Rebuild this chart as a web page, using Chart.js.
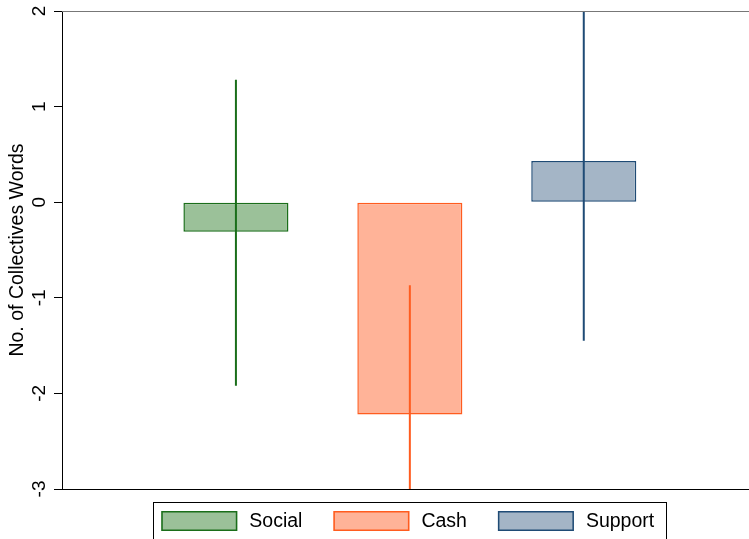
<!DOCTYPE html>
<html><head><meta charset="utf-8">
<script src="https://cdn.jsdelivr.net/npm/chart.js@4/dist/chart.umd.min.js"></script>
<style>html,body{margin:0;padding:0;background:#fff}canvas{display:block}</style>
</head><body>
<canvas id="c" width="749" height="539"></canvas>
<script>
const categories = ['Social', 'Cash', 'Support'];
const xPositions = [1, 2, 3];
const means = [-0.31, -2.22, 0.43];
const lowerCI = [-1.92, -3.57, -1.45];
const upperCI = [1.28, -0.87, 2.31];
const yTickValues = [-3, -2, -1, 0, 1, 2];
const yTickLabels = ['-3', '-2', '-1', '0', '1', '2'];
const yTitle = 'No. of Collectives Words';

const fills = ['#9bc199', '#ffb398', '#a4b5c6'];
const borders = ['#1a6e1a', '#ff5c1f', '#1f4b75'];
const FONT = '"Liberation Sans", Arial, Helvetica, sans-serif';

const decor = {
  id: 'decor',
  afterDatasetsDraw(chart) {
    const { ctx, chartArea: a, scales: { x, y } } = chart;
    ctx.save();
    ctx.beginPath();
    ctx.rect(a.left, a.top, a.right - a.left, a.bottom - a.top);
    ctx.clip();
    categories.forEach((c, i) => {
      const px = x.getPixelForValue(xPositions[i]);
      ctx.strokeStyle = borders[i];
      ctx.lineWidth = 2;
      ctx.beginPath();
      ctx.moveTo(px, y.getPixelForValue(lowerCI[i]));
      ctx.lineTo(px, y.getPixelForValue(upperCI[i]));
      ctx.stroke();
    });
    ctx.restore();
  },
  afterDraw(chart) {
    const { ctx, chartArea: a, scales: { y } } = chart;
    ctx.save();
    // top frame line
    ctx.strokeStyle = '#777';
    ctx.lineWidth = 1.2;
    ctx.beginPath();
    ctx.moveTo(a.left, a.top + 0.5);
    ctx.lineTo(a.right, a.top + 0.5);
    ctx.stroke();
    // rotated y tick labels
    ctx.fillStyle = '#000';
    ctx.font = '19px ' + FONT;
    ctx.textAlign = 'center';
    ctx.textBaseline = 'middle';
    yTickValues.forEach((v, i) => {
      const py = y.getPixelForValue(v);
      ctx.save();
      ctx.translate(40, py);
      ctx.rotate(-Math.PI / 2);
      ctx.fillText(yTickLabels[i], 0, 0);
      ctx.restore();
    });
    // legend
    ctx.font = '19.5px ' + FONT;
    const sw = 76, sh = 20, gapText = 12, gapItem = 31, padL = 8, padR = 12.5;
    const widths = categories.map(c => ctx.measureText(c).width);
    const inner = widths.reduce((s, w) => s + sw + gapText + w, 0) + gapItem * (categories.length - 1);
    const boxW = padL + inner + padR;
    const boxL = 410 - boxW / 2;
    ctx.strokeStyle = '#000';
    ctx.lineWidth = 1;
    ctx.strokeRect(Math.round(boxL) + 0.5, 502.5, Math.round(boxW), 60);
    let cx = boxL + padL;
    ctx.textAlign = 'left';
    ctx.textBaseline = 'middle';
    categories.forEach((c, i) => {
      ctx.fillStyle = fills[i];
      ctx.fillRect(cx, 511, sw, sh);
      ctx.strokeStyle = borders[i];
      ctx.lineWidth = 1.5;
      ctx.strokeRect(cx + 0.75, 511.75, sw - 1.5, sh - 1.5);
      ctx.fillStyle = '#000';
      ctx.fillText(c, cx + sw + gapText, 522);
      cx += sw + gapText + widths[i] + gapItem;
    });
    ctx.restore();
  }
};

new Chart(document.getElementById('c'), {
  type: 'bar',
  data: {
    datasets: categories.map((c, i) => ({
      label: c,
      data: [{ x: xPositions[i], y: means[i] }],
      backgroundColor: fills[i],
      borderColor: borders[i],
      borderWidth: 1.5,
      borderSkipped: false
    }))
  },
  options: {
    responsive: false,
    animation: false,
    grouped: false,
    categoryPercentage: 1,
    barPercentage: 0.604,
    layout: { padding: { left: 0, right: 0, top: 11, bottom: 50 } },
    plugins: { legend: { display: false }, tooltip: { enabled: false } },
    scales: {
      x: {
        type: 'linear',
        offset: false,
        min: 0,
        max: 3.95,
        afterBuildTicks: s => { s.ticks = xPositions.map(v => ({ value: v })); },
        afterFit: s => { s.height = 0; },
        ticks: { display: false },
        grid: { display: false, offset: false },
        border: { display: true, color: '#000', width: 1 }
      },
      y: {
        min: -3,
        max: 2,
        afterBuildTicks: s => { s.ticks = yTickValues.map(v => ({ value: v })); },
        afterFit: s => { s.width = 62; },
        ticks: { display: false },
        grid: { display: true, drawOnChartArea: false, drawTicks: true, tickLength: 8, color: '#000', tickColor: '#000' },
        border: { display: true, color: '#000', width: 1 },
        title: {
          display: true,
          text: yTitle,
          color: '#000',
          font: { family: FONT, size: 19.5 },
          padding: { top: 6, bottom: 0 }
        }
      }
    }
  },
  plugins: [decor]
});
</script>
</body></html>
